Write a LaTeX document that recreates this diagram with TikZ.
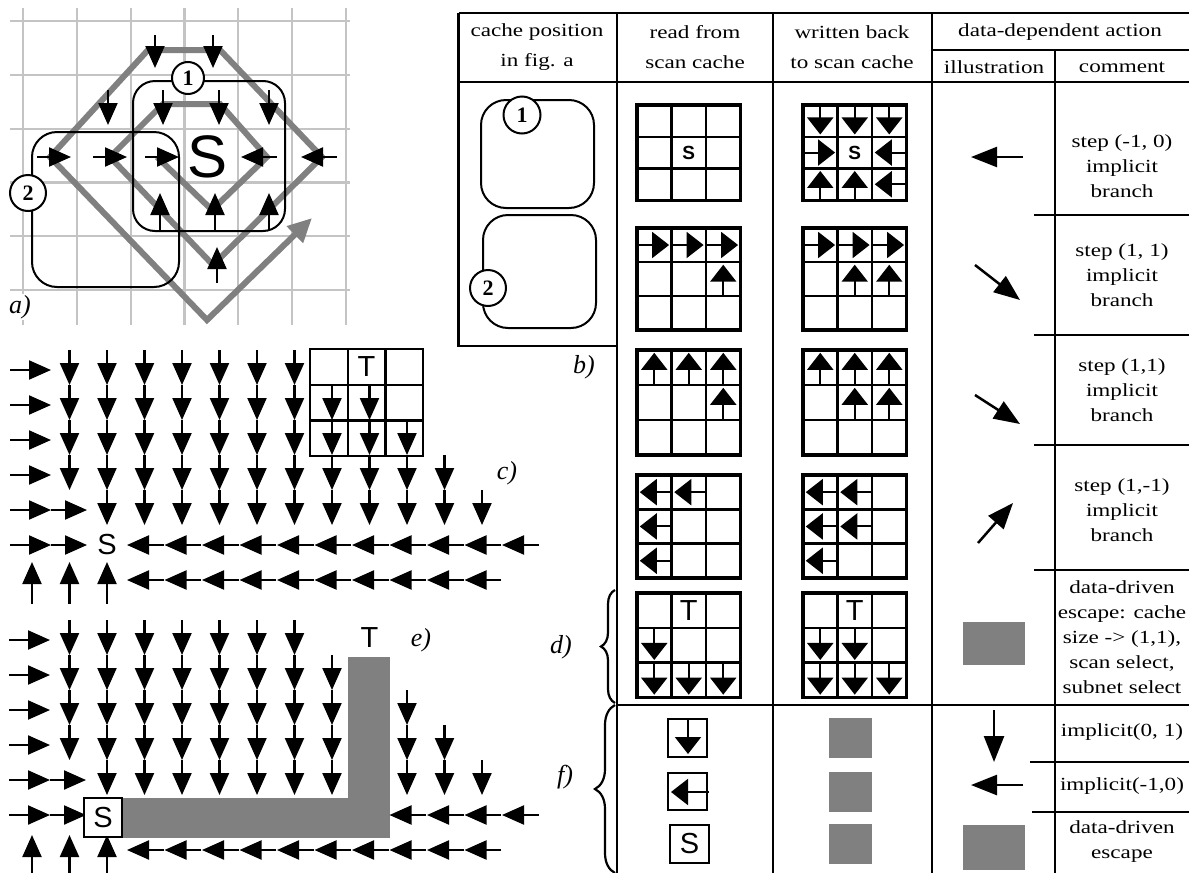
\documentclass[tikz,border=0pt]{standalone}
\usepackage{fontspec}
\setmainfont{Liberation Serif}
\setsansfont{Liberation Sans}
\newfontfamily\tabfont{Liberation Serif}[FakeStretch=1.25]
\usetikzlibrary{arrows.meta, decorations.pathreplacing}
\definecolor{cGrid}{HTML}{C4C4C4}
\definecolor{cFill}{HTML}{808080}
\tikzset{
  flow/.style={-{Triangle[length=22pt,width=19pt]}, line width=2.2pt},
  cellarr/.style={-{Triangle[length=17pt,width=26pt]}, line width=2pt},
  illarr/.style={-{Triangle[length=26pt,width=20pt]}, line width=2.5pt},
  gridline/.style={draw=cGrid, line width=2.2pt},
  spiral/.style={draw=cFill, line width=6pt, -{Triangle[length=24pt,width=22pt]}},
  cachebox/.style={draw, line width=2pt},
  tag/.style={circle, draw, line width=2pt, fill=white, inner sep=0pt,
    minimum size=#1, font=\fontsize{22}{22}\selectfont\bfseries},
  tline/.style={line width=2.7pt},
  cellgrid/.style={line width=2.4pt},
  hdr/.style={font=\tabfont\fontsize{18.5}{30}\selectfont, align=center, inner sep=0pt},
  cmt/.style={font=\tabfont\fontsize{18.5}{25}\selectfont, align=center, inner sep=0pt},
  panel/.style={font=\fontsize{26}{26}\selectfont\itshape, inner sep=1pt},
  letter/.style={font=\sffamily\fontsize{29}{29}\selectfont, inner sep=0pt},
  cellS/.style={font=\sffamily\bfseries\fontsize{19}{19}\selectfont, inner sep=0pt},
  escape/.style={fill=cFill},
  sidebrace/.style={decorate, decoration={brace, amplitude=#1}, line width=2.2pt}
}
% field arrows (x, y of the cell)
\newcommand{\dnflow}[2]{\draw[flow] (#1,#2-20) -- (#1,#2+15);}
\newcommand{\upflow}[2]{\draw[flow] (#1,#2+24) -- (#1,#2-18);}
\newcommand{\ltflow}[2]{\draw[flow] (#1+19,#2) -- (#1-17.5,#2);}
% arrows in one cell of a cache grid (col, row)
\newcommand{\celldn}[2]{\draw[cellarr] (#1+.5,#2+.03) -- (#1+.5,#2+.93);}
\newcommand{\cellup}[2]{\draw[cellarr] (#1+.5,#2+.97) -- (#1+.5,#2+.08);}
\newcommand{\cellrt}[2]{\draw[cellarr] (#1+.03,#2+.5) -- (#1+.93,#2+.5);}
\newcommand{\celllt}[2]{\draw[cellarr] (#1+.97,#2+.5) -- (#1+.08,#2+.5);}
% 3x3 cache grid: x, y of top left corner, row height, contents
\newcommand{\cachegrid}[4]{%
  \begin{scope}[shift={(#1pt,-#2pt)}, x=34.5pt, y=-#3pt]
    \foreach \k in {1,2} {
      \draw[cellgrid] (\k,0) -- (\k,3);
      \draw[cellgrid] (0,\k) -- (3,\k);
    }
    \draw[cellgrid, line width=3.2pt] (0,0) rectangle (3,3);
    #4
  \end{scope}}

\begin{document}
\begin{tikzpicture}[x=1pt, y=-1pt]
\useasboundingbox (0,0) rectangle (1189,873);

% ---------- a) scan spiral ----------
\foreach \k in {0,...,6} {\draw[gridline] (23+53.8*\k,8) -- (23+53.8*\k,325);}
\foreach \k in {0,...,5} {\draw[gridline] (10,21+53.8*\k) -- (350,21+53.8*\k);}
\draw[spiral] (157,157) -- (212,210) -- (267,157) -- (220,104) -- (163,104)
  -- (110,157) -- (213,265) -- (322,157) -- (220,50) -- (148,50)
  -- (50,157) -- (207,320) -- (312,218);
\draw[cachebox, rounded corners=22pt] (133,81) rectangle (285,231);
\draw[cachebox, rounded corners=25pt] (32,132) rectangle (179,287);
\foreach \x in {155,213} {\draw[flow] (\x,35) -- (\x,68);}
\foreach \x in {108,163,219,269} {\draw[flow] (\x,90) -- (\x,125);}
\foreach \x in {37,93,145} {\draw[flow] (\x,157) -- (\x+34,157);}
\foreach \x in {277,337} {\draw[flow] (\x,157) -- (\x-36,157);}
\foreach \x in {160,215,269} {\draw[flow] (\x,230) -- (\x,193);}
\draw[flow] (217,283) -- (217,247);
\node[font=\sffamily\fontsize{60}{60}\selectfont, inner sep=0pt] (aS) at (208,157) {S};
\node[tag=32pt] (a1) at (188,78) {1};
\node[tag=36pt] (a2) at (28,193) {2};
\node[panel, fill=white] (la) at (20,307) {a)};

% ---------- c) flow field ----------
\foreach \j in {0,...,5} {\draw[flow] (10,370+35*\j) -- (51,370+35*\j);}
\foreach \j in {4,5} {\draw[flow] (51,370+35*\j) -- (87,370+35*\j);}
\foreach \j/\n in {0/7,1/7,2/7,3/11} {
  \foreach \i in {1,...,\n} {\dnflow{32+37.5*\i}{370+35*\j}}
}
\foreach \i in {2,...,12} {\dnflow{32+37.5*\i}{510}}
\foreach \i in {8,9} {\dnflow{32+37.5*\i}{405}}
\foreach \i in {8,9,10} {\dnflow{32+37.5*\i}{440}}
\foreach \i in {3,...,13} {\ltflow{32+37.5*\i}{545}}
\foreach \i in {3,...,12} {\ltflow{32+37.5*\i}{580}}
\foreach \i in {0,1,2} {\upflow{32+37.5*\i}{580}}
\node[letter] (cS) at (107,545) {S};
\begin{scope}[cellgrid]
  \draw (310,349) rectangle (423,456);
  \draw (347.7,349) -- (347.7,456) (385.3,349) -- (385.3,456);
  \draw (310,384.7) -- (423,384.7) (310,420.3) -- (423,420.3);
\end{scope}
\node[letter] (cT) at (366.5,367) {T};
\node[panel] (lc) at (507,473) {c)};

% ---------- e) flow field with escape ----------
\fill[escape] (122,798) rectangle (390,838);
\fill[escape] (348,657) rectangle (390,838);
\foreach \j in {0,...,5} {\draw[flow] (9,640+35*\j) -- (50,640+35*\j);}
\foreach \j in {4,5} {\draw[flow] (50,640+35*\j) -- (86,640+35*\j);}
\foreach \i in {1,...,7} {\dnflow{32+37.5*\i}{640}}
\foreach \j in {1,2,3} {
  \foreach \i in {1,...,8} {\dnflow{32+37.5*\i}{640+35*\j}}
}
\foreach \i in {2,...,8} {\dnflow{32+37.5*\i}{780}}
\foreach \i/\y in {10/710,10/745,11/745,10/780,11/780,12/780} {\dnflow{32+37.5*\i}{\y}}
\foreach \i in {10,...,13} {\ltflow{32+37.5*\i}{815}}
\foreach \i in {3,...,12} {\ltflow{32+37.5*\i}{850}}
\foreach \i in {0,1,2} {\draw[flow] (32+37.5*\i,873) -- (32+37.5*\i,835);}
\node[letter, draw, line width=2.2pt, fill=white, minimum width=38pt,
  minimum height=39pt] (eS) at (103,817.5) {S};
\node[letter] (eT) at (369.5,638) {T};
\node[panel] (le) at (421,640) {e)};

% ---------- b) table ----------
\begin{scope}[tline]
  \draw (458.5,13) -- (1189,13);
  \draw (458.5,13) -- (458.5,346) -- (617,346);
  \draw (617,13) -- (617,873);
  \draw (773,13) -- (773,873);
  \draw (932,13) -- (932,873);
  \draw (1055,50) -- (1055,873);
  \draw (932,50) -- (1189,50);
  \draw (458.5,82) -- (1189,82);
  \foreach \y in {215,335,445,570} {\draw (1034,\y) -- (1189,\y);}
  \draw (617,705) -- (1189,705);
  \draw (1030,762) -- (1189,762);
  \draw (1032,812) -- (1189,812);
\end{scope}
\node[hdr] (hPos) at (537,47) {cache position\\in fig. a};
\node[hdr] (hRead) at (695,47) {read from\\scan cache};
\node[hdr] (hWrite) at (852,47) {written back\\to scan cache};
\node[hdr] (hAct) at (1060,32) {data-dependent action};
\node[hdr] (hIll) at (994,67) {illustration};
\node[hdr] (hCmt) at (1122,67) {comment};

\draw[cachebox, rounded corners=25pt] (481,100) rectangle (594,208);
\node[tag=37pt] (b1) at (522,115) {1};
\draw[cachebox, rounded corners=25pt] (483,215) rectangle (596,328);
\node[tag=36pt] (b2) at (488,288) {2};
\node[panel] (lb) at (584,367) {b)};

% read from scan cache
\cachegrid{637}{105}{31.7}{\node[cellS] (r1S) at (1.5,1.5) {S};}
\cachegrid{637}{228}{34}{\foreach \c in {0,1,2} {\cellrt{\c}{0}} \cellup{2}{1}}
\cachegrid{637}{350}{35}{\foreach \c in {0,1,2} {\cellup{\c}{0}} \cellup{2}{1}}
\cachegrid{637}{475}{34.3}{\celllt{0}{0} \celllt{1}{0} \celllt{0}{1} \celllt{0}{2}}
\cachegrid{637}{593}{34.7}{\node[letter] (r5T) at (1.5,.5) {T};
  \celldn{0}{1} \foreach \c in {0,1,2} {\celldn{\c}{2}}}
% written back to scan cache
\cachegrid{803}{105}{31.7}{\foreach \c in {0,1,2} {\celldn{\c}{0}}
  \cellrt{0}{1} \node[cellS] (w1S) at (1.5,1.5) {S}; \celllt{2}{1}
  \cellup{0}{2} \cellup{1}{2} \celllt{2}{2}}
\cachegrid{803}{228}{34}{\foreach \c in {0,1,2} {\cellrt{\c}{0}} \cellup{1}{1} \cellup{2}{1}}
\cachegrid{803}{350}{35}{\foreach \c in {0,1,2} {\cellup{\c}{0}} \cellup{1}{1} \cellup{2}{1}}
\cachegrid{803}{475}{34.3}{\celllt{0}{0} \celllt{1}{0} \celllt{0}{1} \celllt{1}{1} \celllt{0}{2}}
\cachegrid{803}{593}{34.7}{\node[letter] (w5T) at (1.5,.5) {T};
  \celldn{0}{1} \celldn{1}{1} \foreach \c in {0,1,2} {\celldn{\c}{2}}}

% illustration and comment
\draw[illarr] (1023,157) -- (971,157);
\draw[illarr] (975,265) -- (1020,300);
\draw[illarr] (975,395) -- (1020,424);
\draw[illarr] (978,543) -- (1013,503);
\fill[escape] (963,622) rectangle (1025,665);
\node[cmt] (cA) at (1122,166) {step (-1, 0)\\implicit\\branch};
\node[cmt] (cB) at (1122,275) {step (1, 1)\\implicit\\branch};
\node[cmt] (cC) at (1122,390) {step (1,1)\\implicit\\branch};
\node[cmt] (cD) at (1122,510) {step (1,-1)\\implicit\\branch};
\node[cmt] (cE) at (1122,637) {data-driven\\escape: cache\\size -> (1,1),\\scan select,\\subnet select};

% ---------- d) and f) ----------
\draw[sidebrace=14pt] (615,703) -- (615,590);
\node[panel] (ld) at (561,647) {d)};
\draw[sidebrace=20pt] (615,873) -- (615,705);
\node[panel] (lf) at (565,777) {f)};

\node[draw, line width=2.2pt, minimum width=39pt, minimum height=38pt, inner sep=0pt] (f1) at (687.5,738) {};
\draw[cellarr] (688,720) -- (688,754);
\node[draw, line width=2.2pt, minimum width=39pt, minimum height=37pt, inner sep=0pt] (f2) at (687.5,791.5) {};
\draw[cellarr] (709,792) -- (671,792);
\node[letter, draw, line width=2.2pt, minimum width=39pt, minimum height=38pt] (f3) at (689.5,844) {S};
\fill[escape] (829,718) rectangle (872,758);
\fill[escape] (829,772) rectangle (872,812);
\fill[escape] (829,824) rectangle (872,864);
\draw[illarr] (994,710) -- (994,762);
\draw[illarr] (1023,785) -- (971,785);
\fill[escape] (963,825) rectangle (1025,870);
\node[cmt] (cF1) at (1122,732) {implicit(0, 1)};
\node[cmt] (cF2) at (1122,786) {implicit(-1,0)};
\node[cmt] (cF3) at (1122,842) {data-driven\\escape};
\end{tikzpicture}
\end{document}
